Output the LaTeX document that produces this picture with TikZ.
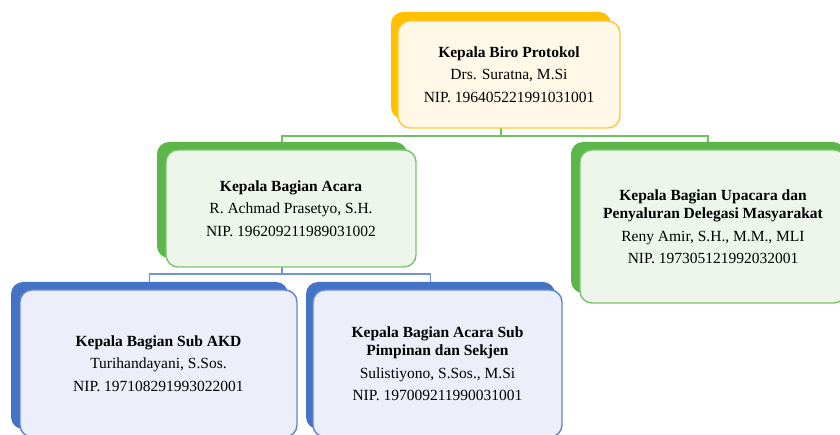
\documentclass[tikz,border=0pt]{standalone}
\usepackage{fontspec}
\setmainfont{Liberation Serif}
\usetikzlibrary{backgrounds}
\definecolor{oBack}{HTML}{FFC000}
\definecolor{oFill}{HTML}{FFF8E7}
\definecolor{oLine}{HTML}{FFC83A}
\definecolor{gBack}{HTML}{5CB64A}
\definecolor{gFill}{HTML}{EEF6EB}
\definecolor{gLine}{HTML}{7CC46C}
\definecolor{bBack}{HTML}{4472C4}
\definecolor{bFill}{HTML}{ECEEF9}
\definecolor{bLine}{HTML}{5F86D0}
\definecolor{gConn}{HTML}{6EC15E}
\definecolor{bConn}{HTML}{7193D8}
\begin{document}
\begin{tikzpicture}[x=1pt,y=-1pt,
  shape base/.style={rectangle, rounded corners=12pt, inner sep=0pt, outer sep=0pt},
  backbox/.style={shape base, fill=#1, draw=none},
  frontbox/.style 2 args={shape base, fill=#1, draw=#2, line width=1.4pt,
    align=center, font=\fontsize{15.5}{22.5}\selectfont},
  conn/.style={draw=#1, line width=1.4pt}
]
\useasboundingbox (0,0) rectangle (840,435);
\clip (0,0) rectangle (840,435);

% top
\node[backbox=oBack, minimum width=220, minimum height=107] (topB) at (501,65.5) {};
\node[frontbox={oFill}{oLine}, minimum width=222, minimum height=107] (top) at (509,74.5)
  {\textbf{Kepala Biro Protokol}\\Drs. Suratna, M.Si\\NIP. 196405221991031001};

% acara
\node[backbox=gBack, minimum width=250, minimum height=116] (accB) at (282,200) {};
\node[frontbox={gFill}{gLine}, minimum width=250, minimum height=117] (acc) at (291,208.5)
  {\textbf{Kepala Bagian Acara}\\R. Achmad Prasetyo, S.H.\\NIP. 196209211989031002};

% upacara
\node[backbox=gBack, minimum width=274, minimum height=151] (rightB) at (708,217.5) {};
\node[frontbox={gFill}{gLine}, minimum width=266, minimum height=153] (right) at (713,226.5)
  {\textbf{Kepala Bagian Upacara dan}\\[-4pt]\textbf{Penyaluran Delegasi Masyarakat}\\Reny Amir, S.H., M.M., MLI\\NIP. 197305121992032001};

% sub akd
\node[backbox=bBack, minimum width=277, minimum height=147] (akdB) at (149.5,355.5) {};
\node[frontbox={bFill}{bLine}, minimum width=277, minimum height=147] (akd) at (158.5,363.5)
  {\textbf{Kepala Bagian Sub AKD}\\Turihandayani, S.Sos.\\NIP. 197108291993022001};

% sekjen
\node[backbox=bBack, minimum width=249, minimum height=147] (sekB) at (430.5,355.5) {};
\node[frontbox={bFill}{bLine}, minimum width=249, minimum height=147] (sek) at (437.5,363.5)
  {\textbf{Kepala Bagian Acara Sub}\\[-4pt]\textbf{Pimpinan dan Sekjen}\\Sulistiyono, S.Sos., M.Si\\NIP. 197009211990031001};

\begin{scope}[on background layer]
  \draw[conn=gConn] (topB.south) -- ++(0,17) -| (accB.north);
  \draw[conn=gConn] (topB.south) -- ++(0,17) -| (rightB.north);
  \draw[conn=bConn] (accB.south) -- ++(0,16) -| (akdB.north);
  \draw[conn=bConn] (accB.south) -- ++(0,16) -| (sekB.north);
\end{scope}
\end{tikzpicture}
\end{document}
